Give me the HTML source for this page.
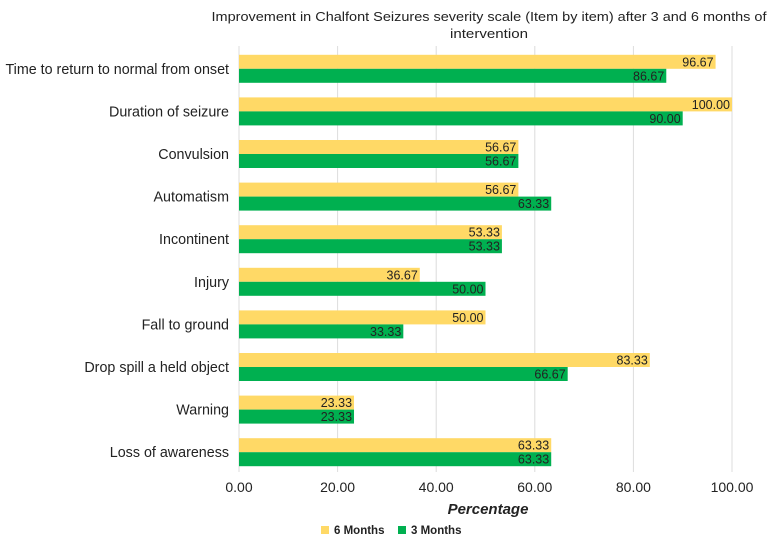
<!DOCTYPE html>
<html><head><meta charset="utf-8"><style>
body{margin:0;background:#fff}
svg text{font-family:"Liberation Sans",Arial,sans-serif}
</style></head><body>
<svg id="chart" width="767" height="537" viewBox="0 0 767 537" xmlns="http://www.w3.org/2000/svg">
<text x="489" y="21" font-size="13" text-anchor="middle" textLength="555" lengthAdjust="spacingAndGlyphs" fill="#222">Improvement in Chalfont Seizures severity scale (Item by item) after 3 and 6 months of</text>
<text x="489" y="38" font-size="13" text-anchor="middle" fill="#222" textLength="78" lengthAdjust="spacingAndGlyphs">intervention</text>
<g id="grid"></g><g id="bars"></g><g id="labels"></g>
<text x="488" y="514" font-size="15" font-weight="bold" font-style="italic" text-anchor="middle" fill="#222">Percentage</text>
<g>
<rect x="321" y="526" width="8" height="8" fill="#ffd966"/>
<text x="334" y="534" font-size="11.5" font-weight="bold" fill="#222">6 Months</text>
<rect x="398" y="526" width="8" height="8" fill="#00b050"/>
<text x="411" y="534" font-size="11.5" font-weight="bold" fill="#222">3 Months</text>
</g>
</svg>
<script>
const categories=["Time to return to normal from onset","Duration of seizure","Convulsion","Automatism","Incontinent","Injury","Fall to ground","Drop spill a held object","Warning","Loss of awareness"];
const sixMonths=[96.67,100,56.67,56.67,53.33,36.67,50,83.33,23.33,63.33];
const threeMonths=[86.67,90,56.67,63.33,53.33,50,33.33,66.67,23.33,63.33];
const ticks=[0,20,40,60,80,100];
const NS="http://www.w3.org/2000/svg";
const x0=239,xScale=v=>x0+v*4.93;
const top0=46,bottom0=472,rowH=(bottom0-top0)/categories.length;
const yRow=i=>top0+i*rowH;
function mk(tag,attrs,parent,txt){const e=document.createElementNS(NS,tag);for(const k in attrs)e.setAttribute(k,attrs[k]);if(txt!==undefined)e.textContent=txt;document.getElementById(parent).appendChild(e);return e;}
ticks.forEach(t=>{
 const l=mk('line',{x1:xScale(t),x2:xScale(t),y1:top0,y2:bottom0,stroke:'#dcdcdc','stroke-width':1},'grid');
 
 
 const tx=mk('text',{x:xScale(t),y:492,'font-size':14,'text-anchor':'middle',fill:'#222'},'labels',t.toFixed(2));
 
 
});
categories.forEach((c,i)=>{
 const yc=yRow(i)+rowH/2+1.5;
 const cl=mk('text',{x:229,y:yc+5,'font-size':14.3,'text-anchor':'end',fill:'#222'},'labels',c);
 
 
 const b6=mk('rect',{x:x0,y:yc-14,width:xScale(sixMonths[i])-x0,height:14,fill:'#ffd966'},'bars');
 
 
 const b3=mk('rect',{x:x0,y:yc,width:xScale(threeMonths[i])-x0,height:14,fill:'#00b050'},'bars');
 
 
 const v6=mk('text',{x:xScale(sixMonths[i])-2,y:yc-2.5,'font-size':12.5,'text-anchor':'end',fill:'#222'},'labels',sixMonths[i].toFixed(2));
 
 
 const v3=mk('text',{x:xScale(threeMonths[i])-2,y:yc+11.5,'font-size':12.5,'text-anchor':'end',fill:'#222'},'labels',threeMonths[i].toFixed(2));
 
 
});
</script>
</body></html>
